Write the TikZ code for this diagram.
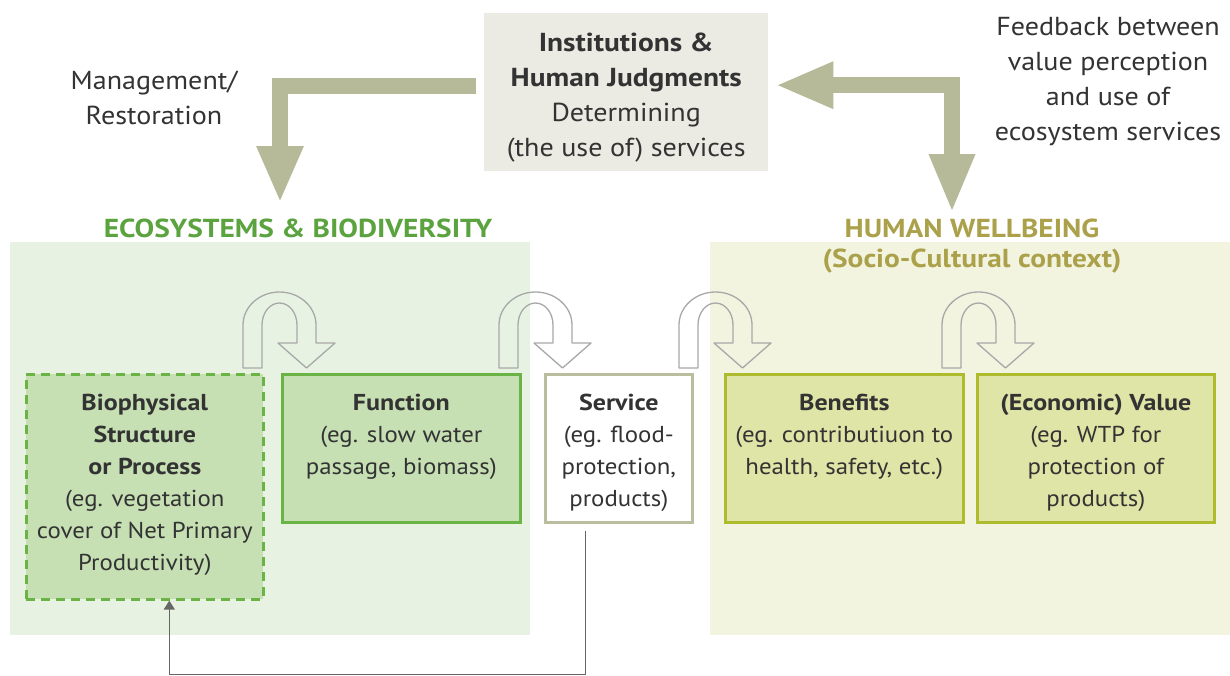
\documentclass[tikz,border=0pt]{standalone}
\usepackage{fontspec}
\setmainfont{PT Sans}[FakeStretch=1.08, BoldFeatures={FakeStretch=1.13}]
\usetikzlibrary{arrows.meta}
\definecolor{txtc}{HTML}{333333}
\definecolor{ecobg}{HTML}{E8F2E2}
\definecolor{hwbg}{HTML}{F2F4E0}
\definecolor{instbg}{HTML}{EBEBE3}
\definecolor{ecotitle}{HTML}{5BA33F}
\definecolor{hwtitle}{HTML}{ABA14A}
\definecolor{gfill}{HTML}{C6E0B4}
\definecolor{gborder}{HTML}{6AB445}
\definecolor{yfill}{HTML}{DFE5A6}
\definecolor{yborder}{HTML}{AEBB2D}
\definecolor{sborder}{HTML}{BBBE9E}
\definecolor{bigc}{HTML}{B6BA98}
\definecolor{uturnc}{HTML}{A8A8A8}
\definecolor{connc}{HTML}{666666}
\tikzset{
  region/.style={draw=none, inner sep=0pt, anchor=north west},
  boxnode/.style={inner sep=0pt, anchor=north west, minimum height=148pt, line width=2.6pt},
  gbox/.style={boxnode, fill=gfill, draw=gborder},
  ybox/.style={boxnode, fill=yfill, draw=yborder},
  txt/.style={text=txtc, align=center, inner sep=0pt, anchor=north, font=\fontsize{23}{32}\selectfont},
  bigtxt/.style={text=txtc, align=center, inner sep=0pt, font=\fontsize{26}{35}\selectfont},
  bigarr/.style={draw=bigc, line width=16pt, line join=miter},
  uline/.style={draw=uturnc, line width=1.3pt, line join=round},
  conn/.style={draw=connc, line width=1.3pt, -{Triangle[width=11pt,length=9pt]}},
  uturn/.pic={
    \draw[uline] (0,0) -- (0,-43) .. controls (0,-61.2) and (16.34,-76) .. (36.5,-76)
      .. controls (56.66,-76) and (73,-61.2) .. (73,-43) -- (73,-25) -- (92,-25) -- (63.5,0)
      -- (35,-25) -- (54,-25) -- (54,-43) .. controls (54,-55.15) and (46.17,-65) .. (36.5,-65)
      .. controls (26.83,-65) and (19,-55.15) .. (19,-43) -- (19,0) -- cycle;
  }
}
\begin{document}
\begin{tikzpicture}[x=1pt,y=-1pt]
\useasboundingbox (0,0) rectangle (1230,675);
\fill[white] (0,0) rectangle (1230,675);

% background regions
\node[region, fill=ecobg, minimum width=520pt, minimum height=393pt] (ecoreg) at (10,242) {};
\node[region, fill=hwbg, minimum width=520pt, minimum height=393pt] (hwreg) at (710,242) {};

% institutions box
\node[region, fill=instbg, minimum width=284pt, minimum height=158pt] (inst) at (484,13) {};
\node[bigtxt, anchor=north, font=\fontsize{26}{35}\selectfont] (insttxt) at ([yshift=-20pt]inst.north)
  {\textbf{Institutions \&}\\\textbf{Human Judgments}\\Determining\\(the use of) services};

% side texts
\node[bigtxt, anchor=north] (mgmt) at (154,71) {Management/\\Restoration};
\node[bigtxt, anchor=north] (feedback) at (1108,17) {Feedback between\\value perception\\and use of\\ecosystem services};

% titles
\node[text=ecotitle, font=\fontsize{26}{30}\selectfont\bfseries, inner sep=0pt] (ecotitle) at (298,228) {ECOSYSTEMS \& BIODIVERSITY};
\node[text=hwtitle, font=\fontsize{26}{30}\selectfont\bfseries, inner sep=0pt, align=center] (hwtitle) at (972,246) {HUMAN WELLBEING\\(Socio-Cultural context)};

% big arrows
\coordinate (ecotip) at (280,203);
\draw[bigarr, -{Triangle[width=43pt,length=57pt]}] ([xshift=-8pt,yshift=6pt]inst.west) -| (ecotip);
\coordinate (hwtip) at (952,213);
\draw[bigarr, {Triangle[width=43pt,length=58pt]}-{Triangle[width=42pt,length=59pt]}] ([xshift=7pt,yshift=7pt]inst.east) -| (hwtip);

% boxes
\node[gbox, dashed, dash pattern=on 9pt off 6pt, minimum width=237pt, minimum height=225pt] (bio) at (25,373) {};
\node[gbox, minimum width=238pt] (func) at (281,373) {};
\node[boxnode, fill=white, draw=sborder, minimum width=147pt] (serv) at (544,373) {};
\node[ybox, minimum width=238pt] (ben) at (724,373) {};
\node[ybox, minimum width=237pt] (val) at (976,373) {};

\node[txt] (biotxt) at ([yshift=-21pt]bio.north) {\textbf{Biophysical}\\\textbf{Structure}\\\textbf{or Process}\\(eg. vegetation\\cover of Net Primary\\Productivity)};
\node[txt] (functxt) at ([yshift=-21pt]func.north) {\textbf{Function}\\(eg. slow water\\passage, biomass)};
\node[txt] (servtxt) at ([yshift=-21pt]serv.north) {\textbf{Service}\\(eg. flood-\\protection,\\products)};
\node[txt] (bentxt) at ([yshift=-21pt]ben.north) {\textbf{Benefits}\\(eg. contributiuon to\\health, safety, etc.)};
\node[txt] (valtxt) at ([yshift=-21pt]val.north) {\textbf{(Economic) Value}\\(eg. WTP for\\protection of\\products)};

% u-turn arrows
\pic at (243,368) {uturn};
\pic at (499,368) {uturn};
\pic at (679,368) {uturn};
\pic at (942,368) {uturn};

% feedback connector
\draw[conn] ([xshift=-33pt,yshift=-7pt]serv.south) -- ++(0,144) -| ([xshift=24.5pt]bio.south);
\end{tikzpicture}
\end{document}
